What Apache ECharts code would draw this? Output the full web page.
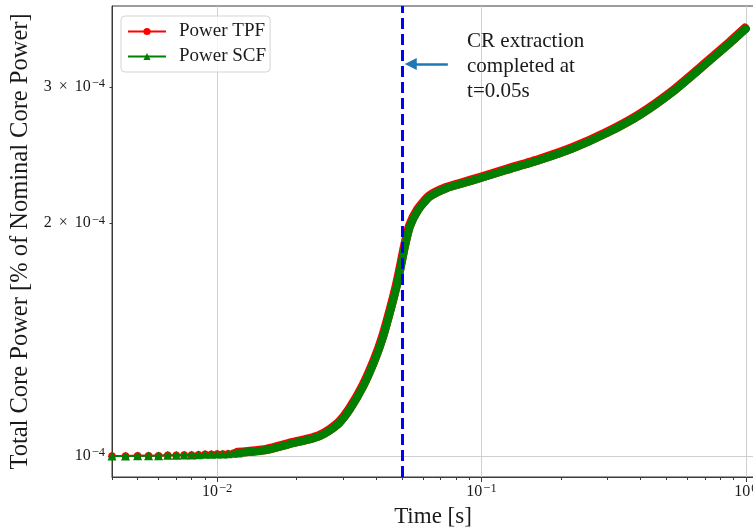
<!DOCTYPE html>
<html><head><meta charset="utf-8">
<script src="https://cdn.jsdelivr.net/npm/echarts@6/dist/echarts.min.js"></script>
<style>html,body{margin:0;padding:0;background:#fff}#c{width:753px;height:531px}</style>
</head><body><div id="c"></div>
<script>
// ---- data ----
const timeS = [0.004,0.0045,0.005,0.0055,0.006,0.0065,0.007,0.0075,0.008,0.0085,0.009,0.0095,0.010,0.0105,0.011,0.0115,0.012,
  0.01538,0.01939,0.02242,0.02446,0.02669,0.02912,0.03178,0.03567,0.03951,0.04247,0.04569,0.04773,0.04955,0.05131,0.05359,
  0.05761,0.06379,0.07379,0.08527,0.0995,0.1245,0.1663,0.2223,0.2973,0.3975,0.5312,0.7108,0.8707,1.0];
const powerTPF = [1.000,1.000,1.001,1.001,1.001,1.002,1.002,1.003,1.003,1.004,1.005,1.005,1.006,1.006,1.007,1.008,1.009,
  1.018,1.039,1.051,1.061,1.079,1.105,1.149,1.230,1.331,1.427,1.561,1.656,1.758,1.866,1.980,
  2.081,2.165,2.220,2.253,2.289,2.344,2.415,2.501,2.615,2.761,2.961,3.221,3.420,3.570].map(v => v * 1e-4);
const powerSCF = [1.000,1.000,1.001,1.001,1.001,1.002,1.002,1.003,1.003,1.004,1.005,1.005,1.006,1.006,1.007,1.008,1.009,
  1.018,1.039,1.051,1.061,1.079,1.105,1.149,1.230,1.331,1.427,1.561,1.656,1.758,1.866,1.980,
  2.081,2.165,2.220,2.253,2.289,2.344,2.415,2.501,2.615,2.761,2.961,3.221,3.420,3.570].map(v => v * 1e-4);
const beadCount = 17;            // points drawn with individually visible markers
const xMajorTicks = [0.01, 0.1, 1];
const xMinorTicks = [0.004,0.005,0.006,0.007,0.008,0.009,0.02,0.03,0.04,0.05,0.06,0.07,0.08,0.09,0.2,0.3,0.4,0.5,0.6,0.7,0.8,0.9];
const yMajorTicks = [1e-4];
const yLabelTicks = [1e-4, 2e-4, 3e-4];
const yMinorTicks = [2e-4, 3e-4];
const xRange = [0.004, 1.0742];
const yRange = [0.9394e-4, 3.820e-4];
const extractionTime = 0.05;
const arrowTail = [0.0746, 3.215e-4];
const arrowHead = [0.0540, 3.215e-4];
const noteAnchor = [0.0878, 3.186e-4];
const noteText = 'CR extraction\ncompleted at\nt=0.05s';

// ---- chart ----
const SERIF = '"Liberation Serif", "Times New Roman", serif';
const TXT = '#1a1a1a', SPINE = '#3a3a3a', GRID = '#cfcfcf';
const pts = (ys, a, b) => timeS.slice(a, b).map((t, i) => [t, ys[a + i]]);
const sup = n => String(n).replace('-', '\u2212');
function powLabel(v) {
  const e = Math.floor(Math.log10(v) + 1e-9);
  const m = Math.round(v / Math.pow(10, e));
  return (m === 1 ? '' : '{b|' + m + '}{x|\u00d7}') + '{b|10}{s|' + sup(e) + '}';
}
const rich = {
  b: { fontFamily: SERIF, fontSize: 16, color: TXT, lineHeight: 19 },
  x: { fontFamily: SERIF, fontSize: 16, color: TXT, lineHeight: 19, padding: [0, 7, 0, 7] },
  s: { fontFamily: SERIF, fontSize: 12.5, color: TXT, lineHeight: 12, verticalAlign: 'top', padding: [0, 0, 0, 1] }
};
const chart = echarts.init(document.getElementById('c'), null, { renderer: 'canvas' });
chart.setOption({
  animation: false,
  backgroundColor: '#fff',
  grid: { left: 112, top: 6, right: -1, bottom: 54, show: true, borderColor: SPINE, borderWidth: 1, outerBoundsMode: 'none', containLabel: false },
  legend: {
    data: ['Power TPF', 'Power SCF'], orient: 'vertical', left: 121, top: 16,
    itemWidth: 38, itemHeight: 9, itemGap: 6, padding: [6, 4, 6, 6],
    backgroundColor: 'rgba(255,255,255,0.8)', borderColor: '#d5d5d5', borderWidth: 1, borderRadius: 4,
    textStyle: { fontFamily: SERIF, fontSize: 19, color: TXT, padding: [0, 0, 0, 8] },
    selectedMode: false
  },
  xAxis: [{
    type: 'log', min: xRange[0], max: xRange[1], position: 'bottom',
    name: 'Time [s]', nameLocation: 'middle', nameGap: 28,
    nameTextStyle: { fontFamily: SERIF, fontSize: 23, color: TXT },
    axisLine: { lineStyle: { color: SPINE, width: 1 } },
    axisTick: { customValues: xMajorTicks, length: 5, lineStyle: { color: SPINE } },
    axisLabel: { customValues: xMajorTicks, margin: 5, formatter: powLabel, rich: rich },
    splitLine: { show: true, lineStyle: { color: GRID, width: 1 } }
  }, {
    type: 'log', min: xRange[0], max: xRange[1], position: 'bottom',
    axisLine: { show: false },
    axisTick: { customValues: xMinorTicks, length: 3, lineStyle: { color: SPINE } },
    axisLabel: { show: false }, splitLine: { show: false }
  }],
  yAxis: [{
    type: 'log', min: yRange[0], max: yRange[1], position: 'left',
    name: 'Total Core Power [% of Nominal Core Power]', nameLocation: 'middle', nameGap: 79,
    nameTextStyle: { fontFamily: SERIF, fontSize: 24.5, color: TXT },
    axisLine: { show: true, lineStyle: { color: SPINE, width: 1 } },
    axisTick: { show: true, customValues: yMajorTicks, length: 4, lineStyle: { color: SPINE } },
    axisLabel: { customValues: yLabelTicks, margin: 7, formatter: powLabel, rich: rich },
    splitLine: { show: true, lineStyle: { color: GRID, width: 1 } }
  }, {
    type: 'log', min: yRange[0], max: yRange[1], position: 'left',
    axisLine: { show: false },
    axisTick: { show: true, customValues: yMinorTicks, length: 2.5, lineStyle: { color: SPINE } },
    axisLabel: { show: false }, splitLine: { show: false }
  }],
  series: [
    { name: 'Power TPF', type: 'line', data: pts(powerTPF, 0, beadCount), symbol: 'circle', symbolSize: 7.5,
      itemStyle: { color: '#ff0000' }, lineStyle: { color: '#ff0000', width: 2 }, z: 2 },
    { name: 'Power TPF', type: 'line', data: pts(powerTPF, beadCount - 1), symbol: 'none', smooth: 0.2,
      lineStyle: { color: '#ff0000', width: 8, cap: 'round', join: 'round',
        shadowColor: '#ff0000', shadowBlur: 0, shadowOffsetX: -0.8, shadowOffsetY: -1.2 }, z: 2 },
    { name: 'Power SCF', type: 'line', data: pts(powerSCF, 0, beadCount), symbol: 'triangle', symbolSize: 9,
      itemStyle: { color: '#008000' }, lineStyle: { color: '#008000', width: 2 }, z: 3 },
    { name: 'Power SCF', type: 'line', data: pts(powerSCF, beadCount - 1), symbol: 'none', smooth: 0.2,
      lineStyle: { color: '#008000', width: 8, cap: 'round', join: 'round' }, z: 3 },
    { name: 'annotation', type: 'line', data: [], z: 4, silent: true,
      markLine: { silent: true, animation: false, symbol: ['none', 'none'], label: { show: false },
        data: [
          { xAxis: extractionTime, lineStyle: { color: '#0000ff', width: 3, type: [11, 5] } },
          [{ coord: arrowTail, symbol: 'none', symbolSize: 0 }, { coord: arrowHead, symbol: 'triangle', symbolSize: 12,
             lineStyle: { color: '#1f77b4', width: 2.5, type: 'solid' }, itemStyle: { color: '#1f77b4' } }]
        ],
        lineStyle: { color: '#1f77b4', width: 2.5, type: 'solid' }, emphasis: { disabled: true }
      },
      markPoint: { silent: true, animation: false, symbol: 'rect', symbolSize: 1, itemStyle: { color: 'rgba(0,0,0,0)' },
        data: [{ coord: noteAnchor, label: { show: true, position: 'right', distance: 0, formatter: noteText,
          fontFamily: SERIF, fontSize: 21, lineHeight: 25, color: TXT, align: 'left', verticalAlign: 'middle' } }]
      }
    }
  ]
});
</script></body></html>
